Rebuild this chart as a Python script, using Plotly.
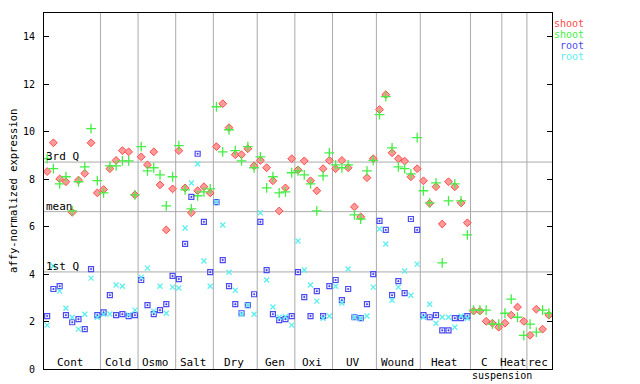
import plotly.graph_objects as go

# ---------------- data ----------------
group_labels = ["Cont", "Cold", "Osmo", "Salt", "Dry", "Gen", "Oxi", "UV",
                "Wound", "Heat", "C", "Heat", "rec"]
group_sizes = [9, 6, 6, 6, 7, 6, 6, 7, 7, 8, 5, 4, 4]
extra_label = "suspension"   # second line of the "C" group label

shoot_red = [8.32, 9.53, 8.01, 7.89, 6.60, 7.96, 8.24, 9.53, 7.42,
             7.56, 8.44, 8.79, 9.20, 9.15, 7.34,
             8.94, 8.60, 9.15, 7.76, 5.86, 7.59,
             9.20, 7.63, 6.58, 7.51, 7.68, 7.42,
             9.37, 11.18, 10.17, 9.03, 9.03, 9.28, 8.56,
             8.79, 8.48, 7.93, 6.66, 7.63, 8.86,
             8.39, 8.77, 7.93, 7.51, 8.44, 8.79,
             8.44, 8.79, 8.48, 6.83, 6.41, 8.06, 8.86,
             10.93, 11.56, 9.11, 8.86, 8.76, 8.10, 8.44,
             7.93, 6.98, 7.68, 6.11, 7.89, 7.68, 7.00, 6.16,
             2.44, 2.44, 2.01, 1.93, 1.76,
             1.93, 2.27, 2.61, 2.01,
             1.42, 2.52, 1.68, 2.27]

shoot_green = [8.86, 8.44, 7.80, 8.10, 6.66, 7.89, 8.52, 10.13, 7.94,
               7.42, 8.56, 8.56, 8.77, 8.77, 7.34,
               9.37, 8.35, 8.48, 8.18, 6.87, 8.10,
               9.41, 7.55, 6.75, 7.30, 7.46, 7.59,
               11.05, 9.15, 10.08, 9.20, 8.77, 9.37, 8.48,
               8.94, 7.63, 8.10, 7.42, 7.46, 8.27,
               8.35, 8.18, 7.80, 6.66, 8.14, 9.11,
               8.60, 8.48, 8.60, 6.49, 6.32, 8.35, 8.79,
               10.72, 11.48, 9.32, 8.52, 8.44, 8.22, 9.75,
               7.51, 7.00, 7.84, 4.47, 7.08, 7.80, 7.08, 5.65,
               2.48, 2.48, 2.48, 1.89, 1.89,
               2.35, 2.94, 2.18, 1.42,
               1.89, 1.55, 2.48, 2.35]

root_blue = [2.23, 3.37, 3.49, 2.27, 1.97, 2.10, 1.68, 4.21, 2.27,
             2.39, 3.11, 2.27, 2.31, 2.23, 2.27,
             3.75, 2.69, 2.31, 2.48, 2.73, 3.92,
             3.79, 5.27, 7.25, 9.07, 6.20, 4.08,
             7.03, 4.59, 3.49, 2.73, 2.35, 2.69, 3.15,
             6.20, 4.17, 2.31, 2.06, 2.10, 2.23,
             4.08, 3.03, 2.23, 3.28, 2.23, 3.49,
             3.75, 2.90, 3.37, 2.18, 2.14, 2.73, 4.00,
             6.24, 5.86, 3.11, 3.70, 3.20, 6.32, 5.86,
             2.27, 2.18, 2.27, 1.63, 1.63, 2.14, 2.14, 2.23]

root_cyan = [1.85, 4.34, 3.28, 2.56, 2.18, 1.68, 2.31, 3.83, 2.18,
             2.30, 2.32, 3.54, 3.49, 2.28, 2.48,
             3.87, 4.25, 2.44, 3.49, 2.35, 3.45,
             3.41, 5.94, 7.84, 8.65, 4.55, 3.49,
             7.03, 6.07, 4.08, 3.32, 2.31, 2.69, 2.31,
             6.58, 3.75, 2.61, 2.18, 2.20, 1.85,
             5.39, 4.17, 3.54, 2.86, 2.14, 2.23,
             3.49, 2.78, 4.21, 2.18, 2.14, 2.23, 3.45,
             5.90, 5.27, 2.90, 3.45, 4.13, 3.11, 4.42,
             2.18, 2.73, 1.93, 2.18, 2.18, 1.76, 2.23, 2.14]

ref_names = ["3rd Q", "mean", "1st Q"]
ref_values = [8.72, 6.63, 4.09]

y_ticks = [0, 2, 4, 6, 8, 10, 12, 14]
y_title = "affy-normalized expression"

series_names = ["shoot", "shoot", "root", "root"]

# ---------------- style ----------------
FONT = "DejaVu Sans Mono"
RED, GREEN, BLUE, CYAN = "#ff4a4a", "#44ee44", "#4b4bf0", "#5ceeee"
GRID = "#aaaaaa"
OFF = 8                      # page body margin of the browser
W, H = 640 - OFF, 384 - OFF
PX0, PX1, PY0, PY1 = 44, 552, 13, 369   # target plot box in window pixels
ML, MT = PX0 - OFF, PY0 - OFF
PW, PH = PX1 - PX0, PY1 - PY0
MR, MB = W - ML - PW, H - MT - PH
n_samples = sum(group_sizes)
XR = [-0.5, n_samples - 0.5]
YR = [0, 15]

styles = [
    dict(symbol="diamond", size=6, color="#ff9a9a", line=dict(color=RED, width=1)),
    dict(symbol="cross-thin-open", size=7, color=GREEN, line=dict(color=GREEN, width=1.3)),
    dict(symbol="square-open-dot", size=5, color=BLUE, line=dict(color=BLUE, width=1.2)),
    dict(symbol="x-thin-open", size=5, color=CYAN, line=dict(color=CYAN, width=1.3)),
]
colors = [RED, GREEN, BLUE, CYAN]

fig = go.Figure()
for vals, st in zip([shoot_red, shoot_green, root_blue, root_cyan], styles):
    fig.add_trace(go.Scatter(x=list(range(len(vals))), y=vals, mode="markers",
                             marker=st, showlegend=False, hoverinfo="skip"))

# group separators
bounds = [-0.5]
for s in group_sizes:
    bounds.append(bounds[-1] + s)
shapes = []
for b in bounds[1:-1]:
    shapes.append(dict(type="line", xref="x", yref="paper", x0=b, x1=b, y0=0, y1=1,
                       line=dict(color=GRID, width=1), layer="below"))
for v in ref_values:
    shapes.append(dict(type="line", xref="paper", yref="y", x0=0, x1=1, y0=v, y1=v,
                       line=dict(color=GRID, width=1), layer="below"))

annotations = []
for name, v in zip(ref_names, ref_values):
    annotations.append(dict(xref="paper", yref="y", x=0, y=v, text=name, showarrow=False,
                            xanchor="left", yanchor="bottom", yshift=-3,
                            font=dict(family=FONT, size=11, color="black")))
for i, lab in enumerate(group_labels):
    c = (bounds[i] + bounds[i + 1]) / 2 - 0.2
    annotations.append(dict(xref="x", yref="y", x=c, y=0, text=lab, showarrow=False,
                            xanchor="center", yanchor="bottom", yshift=-2,
                            font=dict(family=FONT, size=11, color="black")))
ci = group_labels.index("C")
annotations.append(dict(xref="x", yref="paper", x=bounds[ci + 1] + 0.1, y=0, text=extra_label,
                        showarrow=False, xanchor="center", yanchor="top", yshift=1,
                        font=dict(family=FONT, size=10, color="black")))
annotations.append(dict(xref="paper", yref="paper", x=(13 - PX0) / PW, y=0.5, text=y_title,
                        textangle=-90, showarrow=False, xanchor="center", yanchor="middle",
                        font=dict(family=FONT, size=10.5, color="black")))

# legend (text right-aligned, key symbol to the right)
leg_rows_px = [23.5, 34.5, 45.5, 56.5]
leg_text_px = 586
leg_key_px = 609
for i, (nm, col, ypx) in enumerate(zip(series_names, colors, leg_rows_px)):
    yp = (PY1 - ypx) / PH
    annotations.append(dict(xref="paper", yref="paper", x=(leg_text_px - PX0) / PW, y=yp,
                            text=nm, showarrow=False, xanchor="right", yanchor="middle",
                            font=dict(family=FONT, size=10, color=col)))
    fig.add_trace(go.Scatter(
        x=[XR[0] + (leg_key_px - PX0) / PW * (XR[1] - XR[0])],
        y=[YR[0] + yp * (YR[1] - YR[0])],
        mode="markers", marker=styles[i], cliponaxis=False,
        showlegend=False, hoverinfo="skip"))

fig.update_layout(
    width=W, height=H,
    margin=dict(l=ML, r=MR, t=MT, b=MB, pad=0),
    paper_bgcolor="white", plot_bgcolor="white",
    shapes=shapes, annotations=annotations,
    font=dict(family=FONT, size=11, color="black"),
    showlegend=False,
)
fig.update_xaxes(range=XR, showgrid=False, zeroline=False, showticklabels=False,
                 ticks="", showline=True, linecolor="black", linewidth=1, mirror=True)
fig.update_yaxes(range=YR, showgrid=False, zeroline=False, tickvals=y_ticks,
                 ticks="inside", ticklen=5, tickcolor="black", tickwidth=1,
                 showline=True, linecolor="black", linewidth=1, mirror="allticks",
                 tickfont=dict(family=FONT, size=10, color="black"),
                 ticklabelstandoff=6)

fig.write_html("out.html")
